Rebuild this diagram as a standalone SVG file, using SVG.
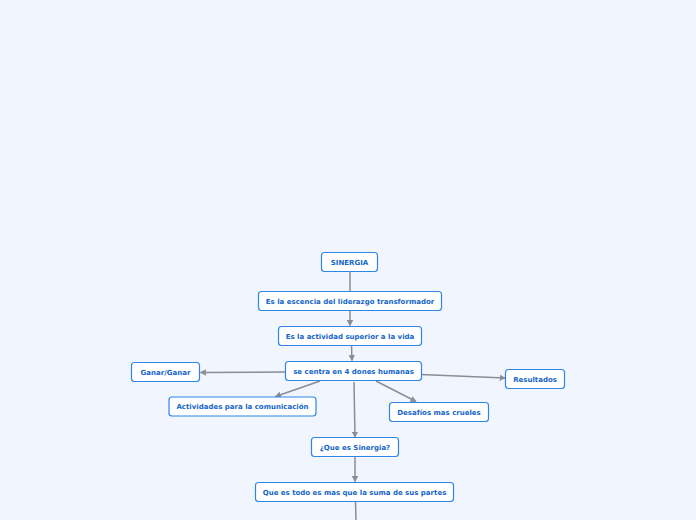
<svg xmlns="http://www.w3.org/2000/svg" width="696" height="520" viewBox="0 0 696 520">
<defs>
<marker id="arr" viewBox="0 0 10 10" refX="9" refY="5" markerWidth="6" markerHeight="6.5" markerUnits="userSpaceOnUse" orient="auto" preserveAspectRatio="none">
<path d="M0,0 L10,5 L0,10 z" fill="#8a8c98"/>
</marker>
<style>
.n rect{fill:#ffffff;stroke:#2f86e6;stroke-width:1.2}
.n text{font-family:"DejaVu Sans",Verdana,sans-serif;font-weight:bold;font-size:7px;fill:#1565c8;text-anchor:middle;dominant-baseline:central}
.c path{fill:none;stroke:#8a8c98;stroke-width:1.5}
.c .a{marker-end:url(#arr)}
</style>
</defs>
<rect width="696" height="520" fill="#f1f5fd"/>
<g class="c">
<path d="M350,272 L350,291"/>
<path class="a" d="M350,311 L350,325.5"/>
<path class="a" d="M351.5,346 L352,360.5"/>
<path class="a" d="M285,372 L200.5,372.5"/>
<path class="a" d="M320,381 L275.5,396.5"/>
<path class="a" d="M376,381 L416,401.5"/>
<path class="a" d="M354,382 L355,437"/>
<path class="a" d="M421,374.5 L505,378"/>
<path class="a" d="M355,457 L355,481.5"/>
<path d="M355.5,502 L356,520"/>
</g>
<g id="sinergia" class="n"><rect x="321.5" y="252.5" width="56" height="19" rx="3"/><text x="349.5" y="262.7">SINERGIA</text></g>
<g id="escencia" class="n"><rect x="258.5" y="291.5" width="183" height="19" rx="3"/><text x="350" y="301.7">Es la escencia del liderazgo transformador</text></g>
<g id="actividad" class="n"><rect x="278.5" y="326.5" width="143" height="19" rx="3"/><text x="350" y="336.7">Es la actividad superior a la vida</text></g>
<g id="centra" class="n"><rect x="285.5" y="361.5" width="136" height="19" rx="3"/><text x="353.5" y="371.7">se centra en 4 dones humanas</text></g>
<g id="ganar" class="n"><rect x="131.5" y="362.5" width="68" height="19" rx="3"/><text x="165.5" y="372.7">Ganar/Ganar</text></g>
<g id="comunicacion" class="n"><rect x="169" y="397" width="147" height="19" rx="3"/><text x="242.5" y="407.2">Actividades para la comunicación</text></g>
<g id="resultados" class="n"><rect x="505.5" y="369.5" width="59" height="19" rx="3"/><text x="535" y="379.7">Resultados</text></g>
<g id="desafios" class="n"><rect x="389.5" y="402.5" width="99" height="19" rx="3"/><text x="439" y="412.7">Desafíos mas crueles</text></g>
<g id="quees" class="n"><rect x="311.5" y="437.5" width="87" height="19" rx="3"/><text x="355" y="447.7">¿Que es Sinergia?</text></g>
<g id="todo" class="n"><rect x="255.5" y="482.5" width="198" height="19" rx="3"/><text x="354.5" y="492.7">Que es todo es mas que la suma de sus partes</text></g>
</svg>
